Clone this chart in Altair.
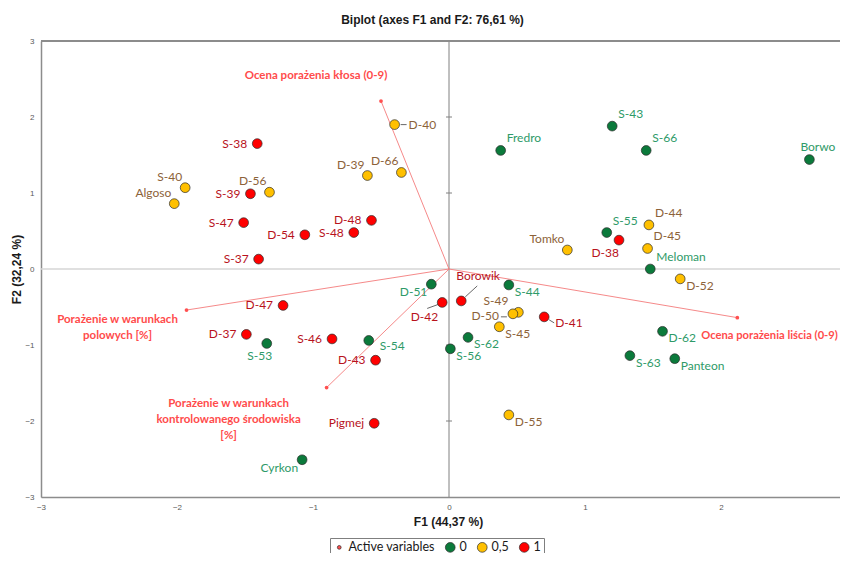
import altair as alt
import pandas as pd

# ---------------- data ----------------
names = ["S-38", "S-40", "Algoso", "S-39", "D-56", "S-47", "S-37", "D-54", "D-40", "Fredro",
         "D-39", "D-66", "D-48", "S-48", "Tomko", "S-43", "S-66", "Borwo", "D-44", "S-55",
         "D-38", "D-45", "Meloman", "D-52", "D-62", "S-63", "Panteon", "D-51", "Borowik", "D-42",
         "S-44", "S-49", "D-50", "S-45", "D-41", "S-62", "S-56", "S-46", "S-54", "D-43",
         "D-55", "Pigmej", "Cyrkon", "D-47", "D-37", "S-53"]
f1 = [-1.41, -1.94, -2.02, -1.46, -1.32, -1.51, -1.40, -1.06, -0.40, 0.38,
      -0.60, -0.35, -0.57, -0.70, 0.87, 1.20, 1.45, 2.65, 1.47, 1.16,
      1.25, 1.46, 1.48, 1.70, 1.57, 1.33, 1.66, -0.13, 0.09, -0.05,
      0.44, 0.51, 0.47, 0.37, 0.70, 0.14, 0.01, -0.86, -0.59, -0.54,
      0.44, -0.55, -1.08, -1.22, -1.49, -1.34]
f2 = [1.65, 1.07, 0.86, 0.99, 1.01, 0.61, 0.13, 0.45, 1.90, 1.56,
      1.23, 1.27, 0.64, 0.48, 0.25, 1.88, 1.56, 1.44, 0.58, 0.48,
      0.38, 0.27, 0.00, -0.13, -0.82, -1.14, -1.18, -0.20, -0.42, -0.44,
      -0.21, -0.57, -0.59, -0.76, -0.63, -0.90, -1.05, -0.92, -0.94, -1.20,
      -1.92, -2.03, -2.51, -0.48, -0.86, -0.98]
group = ["1", "0,5", "0,5", "1", "0,5", "1", "1", "1", "0,5", "0",
         "0,5", "0,5", "1", "1", "0,5", "0", "0", "0", "0,5", "0",
         "1", "0,5", "0", "0,5", "0", "0", "0", "0", "1", "1",
         "0", "0,5", "0,5", "0,5", "1", "0", "0", "1", "0", "1",
         "0,5", "1", "0", "1", "1", "0"]
label_pos = ["l", "tl", "tl", "l", "tl", "l", "l", "l", "r", "tr",
             "tl", "tl", "l", "l", "tl", "tr", "tr", "tc", "tr", "tr",
             "bl2", "tr", "tr", "br", "br", "br", "br", "bl", "up", "dn",
             "br", "tl2", "l2", "br", "rb", "br", "br", "l", "rb", "l",
             "br", "l", "bl", "l", "l", "b"]

var_labels = [["Ocena porażenia kłosa (0-9)"],
              ["Ocena porażenia liścia (0-9)"],
              ["Porażenie w warunkach", "polowych [%]"],
              ["Porażenie w warunkach", "kontrolowanego środowiska", "[%]"]]
var_f1 = [-0.50, 2.12, -1.93, -0.90]
var_f2 = [2.21, -0.64, -0.54, -1.56]

legend_domain = ["Active variables", "0", "0,5", "1"]
x_ticks = [-3, -2, -1, 0, 1, 2]
y_ticks = [-3, -2, -1, 0, 1, 2, 3]

# ---------------- styling ----------------
W, H = 799, 456
XMIN, XMAX = -3, -3 + W / 136.0
FONT = "Lato"
marker_colors = ["#FF5050", "#0B7A3B", "#FFC000", "#FF0000"]
label_colors = {"0": "#2E9A68", "0,5": "#8C6239", "1": "#B8121C"}
VAR_COLOR = "#FF4B4B"

POS = {
    "l": (-10, 0, "right"), "l2": (-14, 2, "right"),
    "r": (14, 0, "left"), "rb": (11, 6, "left"),
    "tl": (-3, -11, "right"), "tl2": (-10, -11, "right"),
    "tr": (6, -12, "left"), "tc": (-9, -13, "left"), "br": (6, 7, "left"),
    "bl": (-4, 8, "right"), "bl2": (0, 13, "right"),
    "b": (-7, 13, "center"),
    "up": (-5, -25, "left"), "dn": (-4, 15, "right"),
}
VAR_OFF = [(-65, -25, "center", 11.5), (-36, 18, "left", 11.2),
           (-69, 9.5, "center", 11.5), (-98, 16.7, "center", 11.5)]
LEADERS = {"Borowik": (4, -4, 16, -15), "D-42": (-4, 2, -15, 6), "D-40": (6, 0, 12, 0),
           "D-41": (5, 3, 10, 6), "D-50": (-12, 3, -6, 3)}

pts = pd.DataFrame({"name": names, "f1": f1, "f2": f2, "grp": group, "pos": label_pos})
pts["tcol"] = pts["grp"].map(label_colors)
vars_df = pd.DataFrame({"vid": list(range(len(var_labels))), "label": var_labels,
                        "f1": var_f1, "f2": var_f2,
                        "o1": [0.0] * len(var_f1), "o2": [0.0] * len(var_f2),
                        "grp": ["Active variables"] * len(var_f1)})

xs = alt.Scale(domain=[XMIN, XMAX], nice=False, zero=False)
ys = alt.Scale(domain=[-3, 3], nice=False, zero=False)
cs = alt.Scale(domain=legend_domain, range=marker_colors)
ss = alt.Scale(type="ordinal", domain=legend_domain, range=[14, 95, 95, 95])

axis_common = dict(grid=False, ticks=False, labelFlush=False, labelFontSize=8, format="d",
                   labelColor="#595959", domainColor="#8C8C8C", domainWidth=1.5,
                   titleFont="Liberation Sans", titleFontSize=12, titleFontWeight="bold",
                   titleColor="#1A1A1A", labelFont="Liberation Sans")
X = alt.X("f1:Q", scale=xs, axis=alt.Axis(values=x_ticks, title="F1 (44,37 %)", labelPadding=6,
                                          titlePadding=5, titleX=407, **axis_common))
Y = alt.Y("f2:Q", scale=ys, axis=alt.Axis(values=y_ticks, title="F2 (32,24 %)", labelPadding=7,
                                          titlePadding=1, **axis_common))

legend = alt.Legend(title=None, orient="none", legendX=289, legendY=497, direction="horizontal",
                    strokeColor="#7F7F7F", padding=3, labelFont=FONT, labelFontSize=12.5,
                    labelColor="#1A1A1A", columnPadding=8, symbolStrokeColor="#2B2B2B",
                    symbolStrokeWidth=0.7, labelOffset=3)

layers = []

# zero lines
zero_df = pd.DataFrame({"z": [0.0]})
layers.append(alt.Chart(zero_df).mark_rule(color="#D6D6D6", strokeWidth=1.5).encode(
    y=alt.Y("z:Q", scale=ys)))
layers.append(alt.Chart(zero_df).mark_rule(color="#808080", strokeWidth=1).encode(
    x=alt.X("z:Q", scale=xs)))
tick_df = pd.DataFrame({"tx": [0.0] * 4, "ty": [-2, -1, 1, 2]})
layers.append(alt.Chart(tick_df).mark_rule(color="#808080", strokeWidth=1, xOffset=-3, x2Offset=3).encode(
    x=alt.X("tx:Q", scale=xs), x2="tx", y=alt.Y("ty:Q", scale=ys)))

# top frame line
layers.append(alt.Chart(zero_df).mark_rule(color="#8C8C8C", strokeWidth=2).encode(
    x=alt.value(0), x2=alt.value(W), y=alt.value(0)))

# variable vectors
layers.append(alt.Chart(vars_df).mark_rule(color="#F47C7C", strokeWidth=0.9).encode(
    x=alt.X("o1:Q", scale=xs), y=alt.Y("o2:Q", scale=ys), x2="f1", y2="f2"))

# leader lines
for nm, (a, b, c, d) in LEADERS.items():
    layers.append(alt.Chart(pts).transform_filter(alt.datum.name == nm).mark_rule(
        color="#404040", strokeWidth=0.8, xOffset=a, yOffset=b, x2Offset=c, y2Offset=d).encode(
        x=alt.X("f1:Q", scale=xs), x2="f1", y=alt.Y("f2:Q", scale=ys), y2="f2"))

# points (with axes and legend)
layers.append(alt.Chart(pts).mark_circle(opacity=1, stroke="#2B2B2B", strokeWidth=0.7).encode(
    x=X, y=Y,
    color=alt.Color("grp:N", scale=cs, legend=legend),
    size=alt.Size("grp:N", scale=ss, legend=legend)))

# variable tips
layers.append(alt.Chart(vars_df).mark_circle(opacity=1).encode(
    x=alt.X("f1:Q", scale=xs), y=alt.Y("f2:Q", scale=ys),
    color=alt.Color("grp:N", scale=cs, legend=legend),
    size=alt.Size("grp:N", scale=ss, legend=legend)))

# point labels
for code, (dx, dy, al) in POS.items():
    layers.append(alt.Chart(pts).transform_filter(alt.datum.pos == code).mark_text(
        font=FONT, fontSize=12, dx=dx, dy=dy, align=al, baseline="middle").encode(
        x=alt.X("f1:Q", scale=xs), y=alt.Y("f2:Q", scale=ys), text="name:N",
        color=alt.Color("tcol:N", scale=None)))

# variable labels
for i, (dx, dy, al, fs) in enumerate(VAR_OFF):
    layers.append(alt.Chart(vars_df).transform_filter(alt.datum.vid == i).mark_text(
        font=FONT, fontSize=fs, fontWeight="bold", color=VAR_COLOR, dx=dx, dy=dy,
        align=al, baseline="middle", lineHeight=16).encode(
        x=alt.X("f1:Q", scale=xs), y=alt.Y("f2:Q", scale=ys), text="label"))

chart = alt.layer(*layers).properties(
    width=W, height=H,
    title=alt.Title("Biplot (axes F1 and F2: 76,61 %)", font="Liberation Sans", fontSize=12,
                    fontWeight="bold", color="#1A1A1A", anchor="middle", dx=-8, offset=10),
    padding={"left": 33, "top": 33, "right": 0, "bottom": 56},
    autosize=alt.AutoSizeParams(type="none"),
).configure_view(stroke=None).configure(background="white")

chart.save("out.html", embed_options={"renderer": "svg", "actions": False})
